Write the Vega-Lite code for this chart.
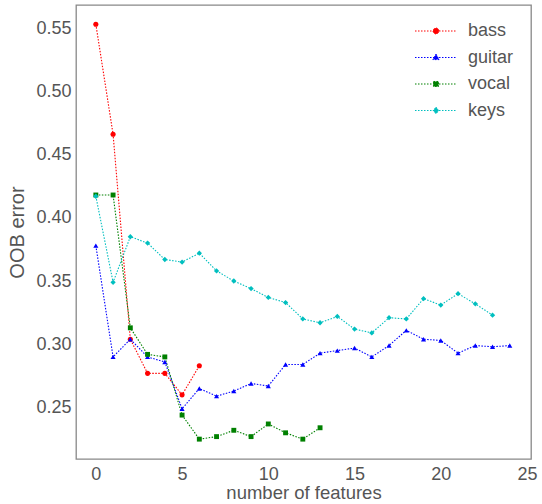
{
  "$schema": "https://vega.github.io/schema/vega-lite/v6.json",
  "width": 455,
  "height": 454,
  "autosize": {"type": "none"},
  "padding": {"left": 76, "top": 5, "right": 11, "bottom": 45},
  "background": "white",
  "config": {
    "view": {"stroke": "#888888", "strokeWidth": 1.3},
    "font": "Liberation Sans",
    "axis": {
      "domain": false, "ticks": false, "grid": false,
      "labelFont": "Liberation Sans", "labelFontSize": 18, "labelColor": "#555555",
      "titleFont": "Liberation Sans", "titleFontSize": 18, "titleColor": "#555555", "titleFontWeight": "normal"
    },
    "legend": {
      "orient": "none", "legendX": 349, "legendY": 15, "title": null,
      "labelFont": "Liberation Sans", "labelFontSize": 18, "labelColor": "#555555", "labelOffset": 21,
      "symbolSize": 100, "rowPadding": 6.5
    }
  },
  "data": {"values": [
    {"x":0,"err":0.553,"series":"bass"},{"x":1,"err":0.466,"series":"bass"},{"x":2,"err":0.304,"series":"bass"},{"x":3,"err":0.277,"series":"bass"},{"x":4,"err":0.277,"series":"bass"},{"x":5,"err":0.260,"series":"bass"},{"x":6,"err":0.283,"series":"bass"},
    {"x":0,"err":0.378,"series":"guitar"},{"x":1,"err":0.290,"series":"guitar"},{"x":2,"err":0.304,"series":"guitar"},{"x":3,"err":0.290,"series":"guitar"},{"x":4,"err":0.286,"series":"guitar"},{"x":5,"err":0.249,"series":"guitar"},{"x":6,"err":0.265,"series":"guitar"},{"x":7,"err":0.259,"series":"guitar"},{"x":8,"err":0.263,"series":"guitar"},{"x":9,"err":0.269,"series":"guitar"},{"x":10,"err":0.267,"series":"guitar"},{"x":11,"err":0.284,"series":"guitar"},{"x":12,"err":0.284,"series":"guitar"},{"x":13,"err":0.293,"series":"guitar"},{"x":14,"err":0.295,"series":"guitar"},{"x":15,"err":0.297,"series":"guitar"},{"x":16,"err":0.290,"series":"guitar"},{"x":17,"err":0.299,"series":"guitar"},{"x":18,"err":0.311,"series":"guitar"},{"x":19,"err":0.304,"series":"guitar"},{"x":20,"err":0.303,"series":"guitar"},{"x":21,"err":0.293,"series":"guitar"},{"x":22,"err":0.299,"series":"guitar"},{"x":23,"err":0.298,"series":"guitar"},{"x":24,"err":0.299,"series":"guitar"},
    {"x":0,"err":0.418,"series":"vocal"},{"x":1,"err":0.418,"series":"vocal"},{"x":2,"err":0.313,"series":"vocal"},{"x":3,"err":0.292,"series":"vocal"},{"x":4,"err":0.290,"series":"vocal"},{"x":5,"err":0.244,"series":"vocal"},{"x":6,"err":0.225,"series":"vocal"},{"x":7,"err":0.227,"series":"vocal"},{"x":8,"err":0.232,"series":"vocal"},{"x":9,"err":0.227,"series":"vocal"},{"x":10,"err":0.237,"series":"vocal"},{"x":11,"err":0.230,"series":"vocal"},{"x":12,"err":0.225,"series":"vocal"},{"x":13,"err":0.234,"series":"vocal"},
    {"x":0,"err":0.417,"series":"keys"},{"x":1,"err":0.349,"series":"keys"},{"x":2,"err":0.385,"series":"keys"},{"x":3,"err":0.380,"series":"keys"},{"x":4,"err":0.367,"series":"keys"},{"x":5,"err":0.365,"series":"keys"},{"x":6,"err":0.372,"series":"keys"},{"x":7,"err":0.358,"series":"keys"},{"x":8,"err":0.350,"series":"keys"},{"x":9,"err":0.344,"series":"keys"},{"x":10,"err":0.337,"series":"keys"},{"x":11,"err":0.333,"series":"keys"},{"x":12,"err":0.320,"series":"keys"},{"x":13,"err":0.317,"series":"keys"},{"x":14,"err":0.322,"series":"keys"},{"x":15,"err":0.312,"series":"keys"},{"x":16,"err":0.309,"series":"keys"},{"x":17,"err":0.321,"series":"keys"},{"x":18,"err":0.320,"series":"keys"},{"x":19,"err":0.336,"series":"keys"},{"x":20,"err":0.331,"series":"keys"},{"x":21,"err":0.340,"series":"keys"},{"x":22,"err":0.332,"series":"keys"},{"x":23,"err":0.323,"series":"keys"}
  ]},
  "encoding": {
    "x": {"field": "x", "type": "quantitative",
      "scale": {"domain": [-1.15, 25.23], "nice": false, "zero": false},
      "axis": {"values": [0,5,10,15,20,25], "title": "number of features", "labelPadding": 6, "titlePadding": 0, "titleFontSize": 18.5}},
    "y": {"field": "err", "type": "quantitative",
      "scale": {"domain": [0.2093, 0.5682], "nice": false, "zero": false},
      "axis": {"values": [0.25,0.30,0.35,0.40,0.45,0.50,0.55], "format": ".2f", "title": "OOB error", "labelPadding": 5, "titlePadding": 8, "titleFontSize": 20}},
    "color": {"field": "series", "type": "nominal",
      "scale": {"domain": ["bass","guitar","vocal","keys"], "range": ["#ff0000","#0000ff","#008000","#00bfbf"]},
      "legend": {
        "encode": {"symbols": {"update": {
          "shape": {"signal": "datum.value === 'bass' ? 'M-2,0H2M-0.28,0A0.28,0.28 0 1,0 0.28,0A0.28,0.28 0 1,0 -0.28,0Z' : datum.value === 'guitar' ? 'M-2,0H2M0,-0.32L0.3,0.2L-0.3,0.2Z' : datum.value === 'vocal' ? 'M-2,0H2M-0.24,-0.24H0.24V0.24H-0.24Z' : 'M-2,0H2M0,-0.32L0.26,0L0,0.32L-0.26,0Z'"},
          "stroke": {"signal": "scale('color', datum.value)"},
          "fill": {"signal": "scale('color', datum.value)"},
          "strokeDash": {"value": [1.5, 1.5]},
          "strokeWidth": {"value": 1},
          "size": {"value": 441},
          "opacity": {"value": 1}
        }}}
      }
    }
  },
  "layer": [
    {
      "mark": {"type": "line", "strokeDash": [1.5, 1.5], "strokeWidth": 1.1},
      "encoding": {}
    },
    {
      "transform": [{"filter": "datum.series === 'bass'"}],
      "mark": {"type": "point", "filled": true, "opacity": 1, "size": 26, "shape": "circle"},
      "encoding": {}
    },
    {
      "transform": [{"filter": "datum.series === 'guitar'"}],
      "mark": {"type": "point", "filled": true, "opacity": 1, "size": 26, "shape": "triangle-up"},
      "encoding": {}
    },
    {
      "transform": [{"filter": "datum.series === 'vocal'"}],
      "mark": {"type": "point", "filled": true, "opacity": 1, "size": 24, "shape": "square"},
      "encoding": {}
    },
    {
      "transform": [{"filter": "datum.series === 'keys'"}],
      "mark": {"type": "point", "filled": true, "opacity": 1, "size": 28, "shape": "diamond"},
      "encoding": {}
    }
  ]
}
